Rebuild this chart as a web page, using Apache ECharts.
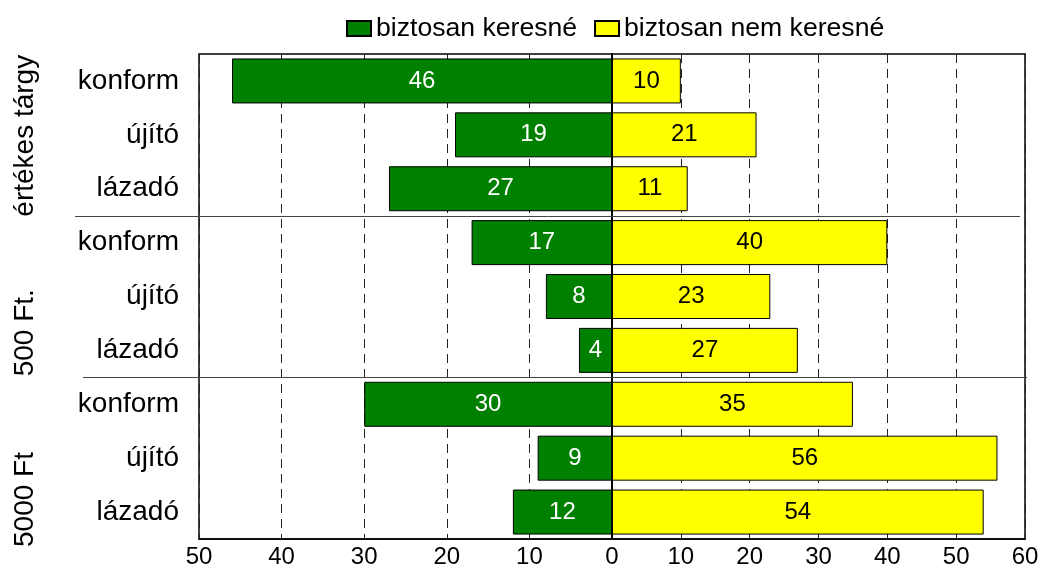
<!DOCTYPE html>
<html>
<head>
<meta charset="UTF-8">
<title></title>
<script src="https://cdn.jsdelivr.net/npm/echarts@6/dist/echarts.min.js"></script>
<style>
  html, body { margin: 0; padding: 0; background: #fff; }
</style>
</head>
<body>
<div id="content" style="width: 1042px;height:578px;"></div>
<script>
// adatok
var groups = ['értékes tárgy', '500 Ft.', '5000 Ft'];
var types = ['konform', 'újító', 'lázadó'];
var categories = ['konform', 'újító', 'lázadó', 'konform', 'újító', 'lázadó', 'konform', 'újító', 'lázadó'];
var keresne = [46, 19, 27, 17, 8, 4, 30, 9, 12];
var nemKeresne = [10, 21, 11, 40, 23, 27, 35, 56, 54];
var leftTicks = [0, 10, 20, 30, 40, 50];
var rightTicks = [0, 10, 20, 30, 40, 50, 60];

var font = 'Liberation Sans';
var myChart = echarts.init(document.getElementById('content'));

var option = {
    animation: false,
    textStyle: { fontFamily: font, color: '#000' },
    legend: {
        top: 10,
        left: 341,
        itemWidth: 24,
        itemHeight: 15,
        itemGap: 17,
        icon: 'rect',
        textStyle: { fontSize: 26.6, color: '#000', fontFamily: font },
        data: ['biztosan keresné', 'biztosan nem keresné']
    },
    grid: [
        { left: 199, top: 54, width: 413, height: 485, show: true, borderColor: '#000', borderWidth: 1.5 },
        { left: 612, top: 54, width: 413, height: 485, show: true, borderColor: '#000', borderWidth: 1.5 }
    ],
    xAxis: [
        {
            gridIndex: 0, type: 'value', inverse: true,
            min: leftTicks[0], max: leftTicks[leftTicks.length - 1], interval: 10,
            axisLine: { show: true, lineStyle: { color: '#000', width: 1.5 } },
            axisTick: { show: false },
            axisLabel: { fontSize: 24, color: '#000', margin: 6 },
            splitLine: { show: true, lineStyle: { color: '#222', width: 1, type: [9, 6] } }
        },
        {
            gridIndex: 1, type: 'value',
            min: rightTicks[0], max: rightTicks[rightTicks.length - 1], interval: 10,
            axisLine: { show: true, lineStyle: { color: '#000', width: 1.5 } },
            axisTick: { show: false },
            axisLabel: {
                fontSize: 24, color: '#000', margin: 6,
                formatter: function (v) { return v === 0 ? '' : v; }
            },
            splitLine: { show: true, lineStyle: { color: '#222', width: 1, type: [9, 6] } }
        }
    ],
    yAxis: [
        {
            gridIndex: 0, type: 'category', inverse: true, data: categories,
            axisLine: { show: true, lineStyle: { color: '#000', width: 1.5 } },
            axisTick: { show: false },
            axisLabel: { fontSize: 28, color: '#000', margin: 20 }
        },
        {
            gridIndex: 1, type: 'category', inverse: true, data: categories, z: 10,
            axisLine: { show: true, lineStyle: { color: '#000', width: 2 } },
            axisTick: { show: false },
            axisLabel: { show: false }
        }
    ],
    series: [
        {
            name: 'biztosan keresné',
            type: 'bar',
            xAxisIndex: 0, yAxisIndex: 0,
            barWidth: 45,
            itemStyle: { color: '#008000', borderColor: '#000', borderWidth: 1 },
            label: { show: true, position: 'inside', color: '#fff', fontSize: 24, fontFamily: font },
            data: keresne
        },
        {
            name: 'biztosan nem keresné',
            type: 'bar',
            xAxisIndex: 1, yAxisIndex: 1,
            barWidth: 45,
            itemStyle: { color: '#ffff00', borderColor: '#000', borderWidth: 1 },
            label: { show: true, position: 'inside', color: '#000', fontSize: 24, fontFamily: font },
            data: nemKeresne
        }
    ]
};

myChart.setOption(option);

// csoport feliratok es elvalaszto vonalak a tengelyből számolva
var labelShift = [1, -1, 8];   // felirat alja a csoport aljához képest
var lineSpan = [[75, 1020], [83, 1027]];
var graphics = [];
for (var g = 0; g < groups.length; g++) {
    var last = myChart.convertToPixel({ yAxisIndex: 0 }, g * types.length + types.length - 1);
    var step = myChart.convertToPixel({ yAxisIndex: 0 }, 1) - myChart.convertToPixel({ yAxisIndex: 0 }, 0);
    var bottom = last + step / 2;
    graphics.push({
        type: 'text',
        x: 25, y: bottom + labelShift[g],
        rotation: Math.PI / 2,
        style: { text: groups[g], font: '28px ' + font, fill: '#000', align: 'left', verticalAlign: 'middle' }
    });
    if (g < groups.length - 1) {
        var yy = Math.round(bottom) + 0.5;
        graphics.push({
            type: 'line',
            z: 100,
            shape: { x1: lineSpan[g][0], y1: yy, x2: lineSpan[g][1], y2: yy },
            style: { stroke: '#444', lineWidth: 1 }
        });
    }
}
myChart.setOption({ graphic: graphics });
</script>
</body>
</html>
